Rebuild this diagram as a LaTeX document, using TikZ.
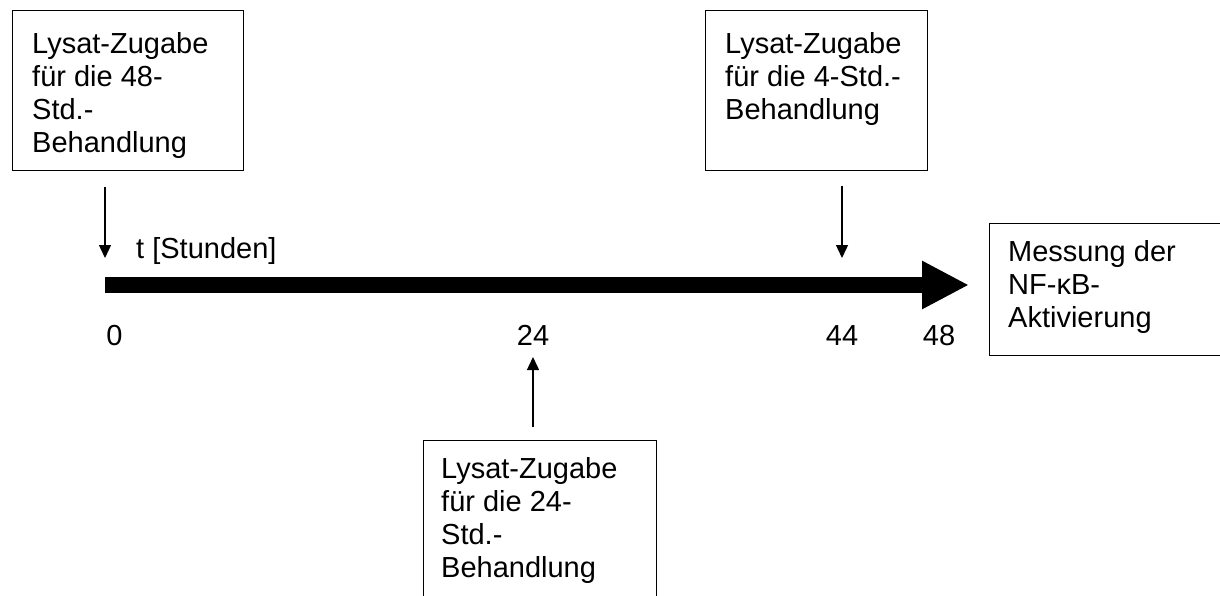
\documentclass[tikz,border=0pt]{standalone}
\usepackage{fontspec}
\setmainfont{Liberation Sans}
\usetikzlibrary{arrows.meta}
\begin{document}
\begin{tikzpicture}[x=1pt,y=-1pt,
  boxline/.style={draw=black, line width=1.4pt},
  txt/.style={font=\fontsize{29}{33}\selectfont, inner sep=0pt, align=left, anchor=base west},
  num/.style={font=\fontsize{29}{33}\selectfont, inner sep=0pt, anchor=base},
  thin/.style={line width=1.4pt, -{Triangle[length=13pt,width=12pt]}},
  timeline/.style={line width=16pt, -{Triangle[length=47pt,width=45pt]}}]
\path[use as bounding box] (0,0) rectangle (1220,596);
\clip (0,0) rectangle (1220,596);
% boxes
\node[boxline, minimum width=231pt, minimum height=160pt, anchor=north west, inner sep=0pt] (boxA) at (12,10) {};
\node[boxline, minimum width=222pt, minimum height=160pt, anchor=north west, inner sep=0pt] (boxB) at (705,10) {};
\node[boxline, minimum width=233pt, minimum height=190pt, anchor=north west, inner sep=0pt] (boxC) at (423,440) {};
\node[boxline, minimum width=250pt, minimum height=132pt, anchor=north west, inner sep=0pt] (boxD) at (989,223) {};
% box texts (anchored at the baseline of the last line)
\node[txt] (tA) at (32,153) {Lysat-Zugabe\\für die 48-\\Std.-\\Behandlung};
\node[txt] (tB) at (725,120) {Lysat-Zugabe\\für die 4-Std.-\\Behandlung};
\node[txt] (tC) at (441,577) {Lysat-Zugabe\\für die 24-\\Std.-\\Behandlung};
\node[txt] (tD) at (1008,327) {Messung der\\NF-κB-\\Aktivierung};
% timeline
\coordinate (t0) at (105,285);
\coordinate (t1) at (969,285);
\draw[timeline] (t0) -- (t1);
\node[txt] (tlab) at (136,258) {t [Stunden]};
\node[num] (n0) at (114.5,345) {0};
\node[num] (n24) at (533,345) {24};
\node[num] (n44) at (842,345) {44};
\node[num] (n48) at (939,345) {48};
% arrows
\coordinate (a1) at (105,187);
\coordinate (a2) at (105,258);
\coordinate (b1) at (842,186);
\coordinate (b2) at (842,258);
\coordinate (c1) at (533,427);
\coordinate (c2) at (533,357);
\draw[thin] (a1) -- (a2);
\draw[thin] (b1) -- (b2);
\draw[thin] (c1) -- (c2);
\end{tikzpicture}
\end{document}
